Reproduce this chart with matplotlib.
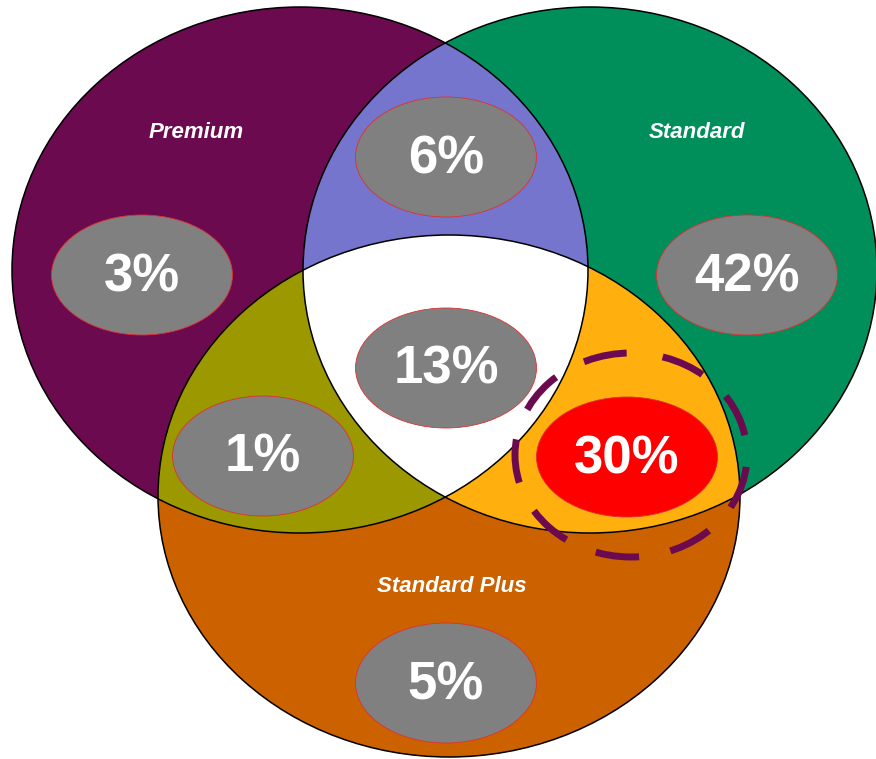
import numpy as np
import matplotlib
matplotlib.use("Agg")
import matplotlib.pyplot as plt
from matplotlib.patches import Ellipse, Polygon

# Segment names and the share of customers in each Venn region
sets = ["Premium", "Standard", "Standard Plus"]
region_keys = ["P", "S", "SP", "P&S", "P&SP", "S&SP", "P&S&SP"]
region_share = [3, 42, 5, 6, 1, 30, 13]
highlight = "S&SP"

# Layout (pixel-like data units, y grows downward)
W, H = 876, 759
set_geom = {"Premium": (300, 270, 288, 263),
            "Standard": (590, 270, 287, 263),
            "Standard Plus": (449, 496, 291, 261)}
set_color = {"Premium": "#6B0A4E", "Standard": "#008F5A", "Standard Plus": "#CC6100"}
set_label_pos = {"Premium": (196, 133), "Standard": (697, 133), "Standard Plus": (452, 587)}
region_color = {"P&S": "#7575CD", "P&SP": "#9C9900", "S&SP": "#FFB00F", "P&S&SP": "#FFFFFF"}
bubble_pos = {"P": (142, 275), "S": (747, 275), "SP": (446, 683), "P&S": (446, 157),
              "P&SP": (263, 456), "S&SP": (627, 457), "P&S&SP": (446, 368)}
bubble_w, bubble_h = 181, 120
ring_geom = (631, 455, 232, 204)


def ellipse_pts(cx, cy, rx, ry, n=900):
    t = np.linspace(0, 2 * np.pi, n, endpoint=False)
    return np.column_stack([cx + rx * np.cos(t), cy + ry * np.sin(t)])


def clip_convex(subject, clipper):
    """Sutherland-Hodgman clipping of a polygon by a convex polygon."""
    out = list(map(tuple, subject))
    m = len(clipper)
    for i in range(m):
        a = clipper[i]
        b = clipper[(i + 1) % m]
        inp = out
        out = []
        if not inp:
            break

        def inside(p):
            return (b[0] - a[0]) * (p[1] - a[1]) - (b[1] - a[1]) * (p[0] - a[0]) >= 0

        def inter(p, q):
            d1 = np.array(q) - np.array(p)
            d2 = b - a
            den = d1[0] * d2[1] - d1[1] * d2[0]
            t = ((a[0] - p[0]) * d2[1] - (a[1] - p[1]) * d2[0]) / den
            return (p[0] + t * d1[0], p[1] + t * d1[1])

        s = inp[-1]
        for e in inp:
            if inside(e):
                if not inside(s):
                    out.append(inter(s, e))
                out.append(e)
            elif inside(s):
                out.append(inter(s, e))
            s = e
    return np.array(out)


polys = {name: ellipse_pts(*g) for name, g in set_geom.items()}
P, S, SP = polys["Premium"], polys["Standard"], polys["Standard Plus"]

fig = plt.figure(figsize=(W / 100, H / 100), dpi=100)
ax = fig.add_axes([0, 0, 1, 1])
ax.set_xlim(0, W)
ax.set_ylim(H, 0)
ax.axis("off")

# Base sets and their overlaps, painted in layers
ax.add_patch(Polygon(P, closed=True, facecolor=set_color["Premium"], edgecolor="none"))
ax.add_patch(Polygon(S, closed=True, facecolor=set_color["Standard"], edgecolor="none"))
ax.add_patch(Polygon(clip_convex(S, P), closed=True, facecolor=region_color["P&S"], edgecolor="none"))
ax.add_patch(Polygon(SP, closed=True, facecolor=set_color["Standard Plus"], edgecolor="none"))
ax.add_patch(Polygon(clip_convex(SP, P), closed=True, facecolor=region_color["P&SP"], edgecolor="none"))
ax.add_patch(Polygon(clip_convex(SP, S), closed=True, facecolor=region_color["S&SP"], edgecolor="none"))
ax.add_patch(Polygon(clip_convex(clip_convex(SP, S), P), closed=True,
                     facecolor=region_color["P&S&SP"], edgecolor="none"))

# Set outlines
for name, g in set_geom.items():
    cx, cy, rx, ry = g
    ax.add_patch(Ellipse((cx, cy), 2 * rx, 2 * ry, facecolor="none", edgecolor="black", lw=1.1))

# Set names
for name in sets:
    x, y = set_label_pos[name]
    ax.text(x, y, name, ha="center", va="center", color="white", fontsize=16,
            fontweight="bold", fontstyle="italic", family=["Liberation Sans", "DejaVu Sans"])

# Value bubbles
for key, val in zip(region_keys, region_share):
    x, y = bubble_pos[key]
    fc = "#FF0000" if key == highlight else "#808080"
    ax.add_patch(Ellipse((x, y), bubble_w, bubble_h, facecolor=fc, edgecolor="#E03030", lw=0.6))
    ax.text(x, y + 2, f"{val}%", ha="center", va="center", color="white", fontsize=38,
            fontweight="bold", family=["Liberation Sans", "DejaVu Sans"])

# Dashed ring around the highlighted region
rx0, ry0, rw, rh = ring_geom
ax.add_patch(Ellipse((rx0, ry0), rw, rh, facecolor="none", edgecolor="#6B0A4E",
                     lw=5, linestyle=(6.3, (6.3, 4.6))))

fig.savefig("out.png", dpi=100)
